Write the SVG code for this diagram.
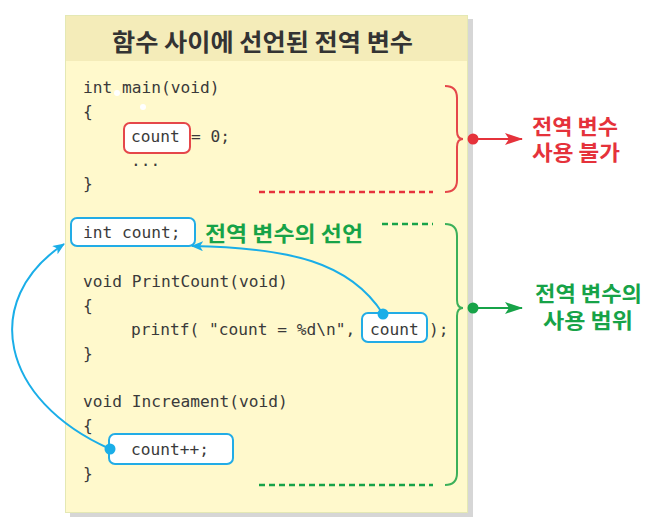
<svg xmlns="http://www.w3.org/2000/svg" width="649" height="525" viewBox="0 0 649 525">
<style>
.code{font-family:"DejaVu Sans Mono","Liberation Mono",monospace;font-size:16.2px;fill:#3a3a3a}
.title{font-family:"Noto Sans CJK KR","Noto Sans",sans-serif;font-size:24px;font-weight:bold;fill:#333}
.lbl{font-family:"Noto Sans CJK KR","Noto Sans",sans-serif;font-size:21px;font-weight:bold}
.red{fill:#e5323b}
.green{fill:#17a348}
.bbox{fill:#fff;stroke:#22ace6;stroke-width:2}
.rbox{fill:#fff;stroke:#e5474a;stroke-width:2}
.blue{fill:none;stroke:#1aaee8;stroke-width:2}
</style>
<defs>
<marker id="ab" markerWidth="12" markerHeight="10" refX="11" refY="5" orient="auto" markerUnits="userSpaceOnUse"><path d="M0,0 L12,5 L0,10 L3,5 Z" fill="#1aaee8"/></marker>
<marker id="ar" markerWidth="18" markerHeight="12" refX="17" refY="6" orient="auto" markerUnits="userSpaceOnUse"><path d="M0,0 L18,6 L0,12 L4,6 Z" fill="#e5323b"/></marker>
<marker id="ag" markerWidth="18" markerHeight="12" refX="17" refY="6" orient="auto" markerUnits="userSpaceOnUse"><path d="M0,0 L18,6 L0,12 L4,6 Z" fill="#17a348"/></marker>
</defs>
<g id="panel">
<rect x="70" y="19" width="403" height="498" fill="#d6d6d6"/>
<rect x="65.5" y="15.5" width="402" height="497" fill="#fff9cc" stroke="#e4e8b4" stroke-width="1"/>
<rect x="66" y="16" width="401" height="45" fill="#f4ecb9"/>
<text class="title" x="112" y="51" textLength="301" lengthAdjust="spacingAndGlyphs">함수 사이에 선언된 전역 변수</text>
</g>
<g id="main-block">
<text class="code" x="83" y="93">int main(void)</text>
<text class="code" x="83" y="117">{</text>
<rect class="rbox" x="124" y="123" width="66" height="30" rx="6"/>
<text class="code" x="131" y="142">count</text>
<text class="code" x="191" y="142">= 0;</text>
<text class="code" x="131" y="166">...</text>
<text class="code" x="83" y="189">}</text>
<circle cx="117" cy="93" r="3" fill="#fff"/>
<circle cx="143" cy="107" r="3" fill="#fff"/>
</g>
<g id="global-decl">
<rect class="bbox" x="71" y="218" width="124" height="28" rx="6"/>
<text class="code" x="83" y="238">int count;</text>
<text class="lbl green" x="205" y="241" textLength="158" lengthAdjust="spacingAndGlyphs">전역 변수의 선언</text>
</g>
<g id="printcount">
<text class="code" x="83" y="287">void PrintCount(void)</text>
<text class="code" x="83" y="311">{</text>
<text class="code" x="131" y="335">printf( "count = %d\n",</text>
<rect class="bbox" x="362" y="313" width="65" height="29" rx="6"/>
<text class="code" x="370" y="335">count</text>
<text class="code" x="429" y="335">);</text>
<text class="code" x="83" y="359">}</text>
</g>
<g id="increament">
<text class="code" x="83" y="407">void Increament(void)</text>
<text class="code" x="83" y="431">{</text>
<rect class="bbox" x="109" y="434" width="124" height="30" rx="6"/>
<text class="code" x="131" y="455">count++;</text>
<text class="code" x="83" y="479">}</text>
</g>
<g id="label-red">
<text class="lbl red" x="532" y="134" textLength="86" lengthAdjust="spacingAndGlyphs">전역 변수</text>
<text class="lbl red" x="532" y="160" textLength="88" lengthAdjust="spacingAndGlyphs">사용 불가</text>
</g>
<g id="label-green">
<text class="lbl green" x="535" y="301" textLength="107" lengthAdjust="spacingAndGlyphs">전역 변수의</text>
<text class="lbl green" x="543" y="328" textLength="90" lengthAdjust="spacingAndGlyphs">사용 범위</text>
</g>
<g id="connectors">
<line x1="259" y1="192" x2="433" y2="192" stroke="#e5323b" stroke-width="2.5" stroke-dasharray="6,4"/>
<path d="M445,86 Q457,86 457,98 L457,131 Q457,139 463,139 Q457,139 457,147 L457,180 Q457,192 445,192" fill="none" stroke="#e5474a" stroke-width="2"/>
<circle cx="473" cy="139" r="5.5" fill="#e5323b"/>
<line x1="473" y1="139" x2="522" y2="139" stroke="#e5323b" stroke-width="2" marker-end="url(#ar)"/>
<line x1="382" y1="224" x2="433" y2="224" stroke="#17a348" stroke-width="2.5" stroke-dasharray="6,4"/>
<line x1="259" y1="485" x2="433" y2="485" stroke="#17a348" stroke-width="2.5" stroke-dasharray="6,4"/>
<path d="M445,224 Q457,224 457,236 L457,300 Q457,308 463,308 Q457,308 457,316 L457,473 Q457,485 445,485" fill="none" stroke="#3cb05a" stroke-width="2"/>
<circle cx="473" cy="308" r="5.5" fill="#17a348"/>
<line x1="473" y1="308" x2="522" y2="308" stroke="#17a348" stroke-width="2" marker-end="url(#ag)"/>
<path class="blue" d="M383,314 C350,262 290,248 192,246" marker-end="url(#ab)"/>
<circle cx="383" cy="314" r="5.5" fill="#1aaee8"/>
<path class="blue" d="M110,449 C0,400 -20,300 64,244" marker-end="url(#ab)"/>
<circle cx="110" cy="449" r="5.5" fill="#1aaee8"/>
</g>
</svg>
